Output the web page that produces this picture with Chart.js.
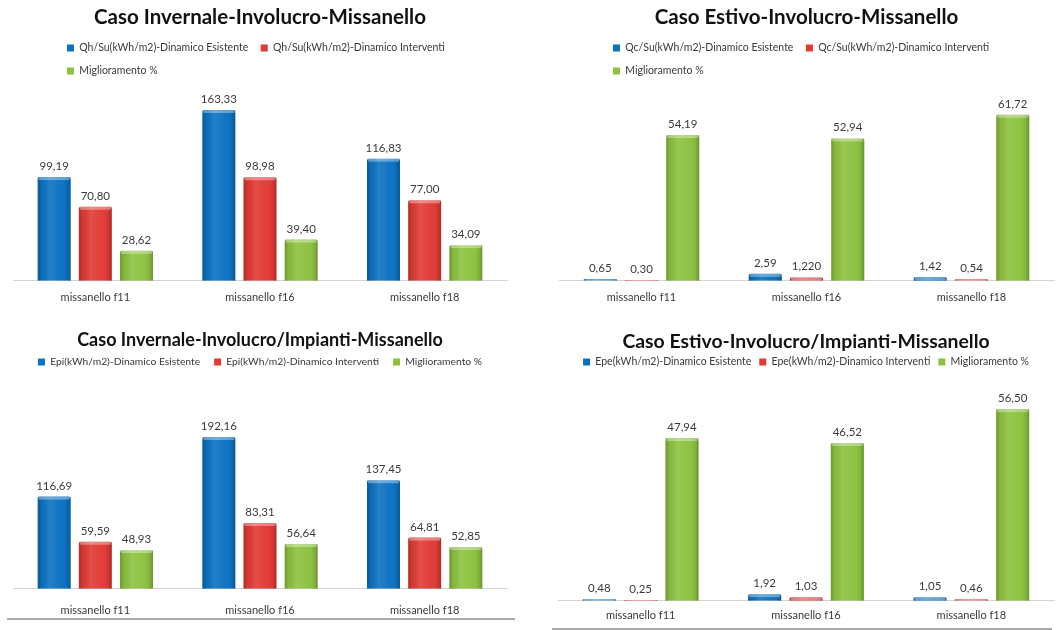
<!DOCTYPE html>
<html><head><meta charset="utf-8">
<script src="https://cdn.jsdelivr.net/npm/chart.js@4"></script>
<style>
html,body{margin:0;padding:0;background:#fff}
body{width:1057px;height:630px;position:relative;overflow:hidden;font-family:Lato,sans-serif}
.box{position:absolute}
.rule{position:absolute;height:2px;background:#a9a9a9}
</style></head><body>
<div class="box" style="left:0;top:0;width:530px;height:318px"><canvas id="c1"></canvas></div>
<div class="box" style="left:530px;top:0;width:527px;height:318px"><canvas id="c2"></canvas></div>
<div class="box" style="left:0;top:322px;width:530px;height:310px"><canvas id="c3"></canvas></div>
<div class="box" style="left:530px;top:322px;width:527px;height:308px"><canvas id="c4"></canvas></div>
<div class="rule" style="left:7px;top:618px;width:508px"></div>
<div class="rule" style="left:552px;top:628px;width:500px"></div>
<script>
// ---------- DATA ----------
const categories = ['missanello f11', 'missanello f16', 'missanello f18'];

const qhEsistente = [99.19, 163.33, 116.83];
const qhInterventi = [70.80, 98.98, 77.00];
const qhMiglioramento = [28.62, 39.40, 34.09];

const qcEsistente = [0.65, 2.59, 1.42];
const qcInterventi = [0.30, 1.220, 0.54];
const qcInterventiLabels = ['0,30', '1,220', '0,54'];
const qcMiglioramento = [54.19, 52.94, 61.72];

const epiEsistente = [116.69, 192.16, 137.45];
const epiInterventi = [59.59, 83.31, 64.81];
const epiMiglioramento = [48.93, 56.64, 52.85];

const epeEsistente = [0.48, 1.92, 1.05];
const epeInterventi = [0.25, 1.03, 0.46];
const epeMiglioramento = [47.94, 46.52, 56.50];

// ---------- STYLE ----------
const BLUE = '#0b72c2', RED = '#e13a35', GREEN = '#8cc23f';
const TXT = '#3a3a3a';
const FONT = 'Lato, "Open Sans", sans-serif';

const fmt = v => v.toFixed(2).replace('.', ',');

const barLook = {
  id: 'barLook',
  beforeDraw(chart, args, opts) {
    if (opts.legendX != null && chart.legend) {
      chart.legend.left = opts.legendX - chart.legend.options.labels.padding;
    }
  },
  afterDatasetsDraw(chart) {
    const ctx = chart.ctx;
    ctx.save();
    chart.data.datasets.forEach((ds, di) => {
      const meta = chart.getDatasetMeta(di);
      meta.data.forEach((bar, i) => {
        const {x, y, base, width} = bar.getProps(['x', 'y', 'base', 'width'], true);
        const l = x - width / 2, h = base - y;
        if (h > 0.5) {
          const g = ctx.createLinearGradient(l, 0, l + width, 0);
          g.addColorStop(0, 'rgba(0,0,0,0.22)');
          g.addColorStop(0.12, 'rgba(0,0,0,0.05)');
          g.addColorStop(0.35, 'rgba(255,255,255,0.10)');
          g.addColorStop(0.7, 'rgba(255,255,255,0.02)');
          g.addColorStop(0.9, 'rgba(0,0,0,0.08)');
          g.addColorStop(1, 'rgba(0,0,0,0.25)');
          ctx.fillStyle = g;
          ctx.fillRect(l, y, width, h);
          ctx.fillStyle = 'rgba(255,255,255,0.35)';
          ctx.fillRect(l + 1, y, width - 2, Math.min(3, h));
        }
        const txt = (ds.valueLabels && ds.valueLabels[i]) || fmt(ds.data[i]);
        ctx.font = '11.5px ' + FONT;
        ctx.fillStyle = TXT;
        ctx.textAlign = 'center';
        ctx.textBaseline = 'bottom';
        ctx.fillText(txt, x, y - 5);
      });
    });
    ctx.restore();
  }
};

function makeChart(id, cfg) {
  const datasets = cfg.series.map((s, k) => ({
    label: s.name,
    data: s.data,
    valueLabels: s.labels,
    backgroundColor: [BLUE, RED, GREEN][k],
    borderWidth: 0,
    borderRadius: {topLeft: 2, topRight: 2},
    categoryPercentage: 0.75,
    barPercentage: 0.8
  }));
  return new Chart(document.getElementById(id), {
    type: 'bar',
    data: {labels: categories, datasets},
    options: {
      responsive: true,
      maintainAspectRatio: false,
      animation: false,
      layout: {padding: cfg.padding},
      plugins: {
        title: {
          display: true, text: cfg.title, color: '#111',
          font: {family: FONT, size: cfg.titleSize, weight: 'bold'},
          padding: cfg.titlePadding
        },
        legend: {
          display: true, fullSize: false, align: cfg.legendX != null ? 'start' : 'center',
          labels: {
            color: TXT, boxWidth: 7, boxHeight: 7, padding: cfg.legendPadding,
            font: {family: FONT, size: cfg.legendSize}
          }
        },
        tooltip: {enabled: false},
        barLook: {legendX: cfg.legendX}
      },
      scales: {
        x: {
          grid: {display: false, drawTicks: false},
          border: {display: true, color: '#d4d4d4', width: 1},
          ticks: {color: TXT, font: {family: FONT, size: 11}, padding: cfg.tickPadding}
        },
        y: {display: false, min: 0, max: cfg.yMax, bounds: 'data'}
      }
    },
    plugins: [barLook]
  });
}

makeChart('c1', {
  title: 'Caso Invernale-Involucro-Missanello', titleSize: 20.5,
  titlePadding: {top: 4.7, bottom: 1}, legendSize: 10.5, legendPadding: 12.5, legendX: 67,
  padding: {left: 13, right: 23, bottom: 4, top: 0}, tickPadding: 10, yMax: 186,
  series: [
    {name: 'Qh/Su(kWh/m2)-Dinamico Esistente', data: qhEsistente},
    {name: 'Qh/Su(kWh/m2)-Dinamico Interventi', data: qhInterventi},
    {name: 'Miglioramento %', data: qhMiglioramento}
  ]
});
makeChart('c2', {
  title: 'Caso Estivo-Involucro-Missanello', titleSize: 20.5,
  titlePadding: {top: 4.7, bottom: 1}, legendSize: 10.5, legendPadding: 12.5, legendX: 83,
  padding: {left: 29, right: 3, bottom: 4, top: 0}, tickPadding: 10, yMax: 72.3,
  series: [
    {name: 'Qc/Su(kWh/m2)-Dinamico Esistente', data: qcEsistente},
    {name: 'Qc/Su(kWh/m2)-Dinamico Interventi', data: qcInterventi, labels: qcInterventiLabels},
    {name: 'Miglioramento %', data: qcMiglioramento}
  ]
});
makeChart('c3', {
  title: 'Caso Invernale-Involucro/Impianti-Missanello', titleSize: 18,
  titlePadding: {top: 7.2, bottom: -8}, legendSize: 10.3, legendPadding: 14,
  padding: {left: 13, right: 23, bottom: 0, top: 0}, tickPadding: 15, yMax: 268,
  series: [
    {name: 'Epi(kWh/m2)-Dinamico Esistente', data: epiEsistente},
    {name: 'Epi(kWh/m2)-Dinamico Interventi', data: epiInterventi},
    {name: 'Miglioramento %', data: epiMiglioramento}
  ]
});
makeChart('c4', {
  title: 'Caso Estivo-Involucro/Impianti-Missanello', titleSize: 19.4,
  titlePadding: {top: 8.4, bottom: -5}, legendSize: 10.5, legendPadding: 8,
  padding: {left: 28, right: 3, bottom: 0, top: 0}, tickPadding: 8, yMax: 65.9,
  series: [
    {name: 'Epe(kWh/m2)-Dinamico Esistente', data: epeEsistente},
    {name: 'Epe(kWh/m2)-Dinamico Interventi', data: epeInterventi},
    {name: 'Miglioramento %', data: epeMiglioramento}
  ]
});
</script>
</body></html>
